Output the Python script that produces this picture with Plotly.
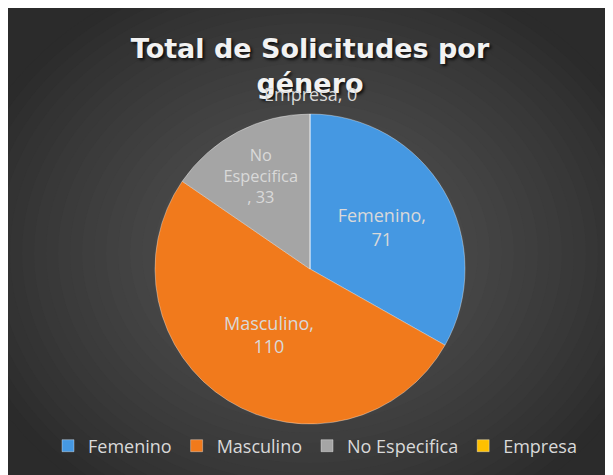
import plotly.graph_objects as go

# data
categorias = ["Femenino", "Masculino", "No Especifica", "Empresa"]
solicitudes = [71, 110, 33, 0]
etiquetas = ["Femenino,<br>71", "Masculino,<br>110", "No<br>Especifica<br>, 33", ""]
colores = ["#4598e2", "#f17a1c", "#a5a5a5", "#ffc000"]

# the page puts the figure 8px in from the top-left corner
W, H = 605, 467
FONT = "Open Sans"
GRIS_TEXTO = "#d9d9d9"

# pie centre and radius in figure pixels
PX, PY, PR = 302, 261, 155

fig = go.Figure()

fig.add_trace(go.Pie(
    labels=categorias,
    values=solicitudes,
    text=etiquetas,
    texttemplate="%{text}",
    textposition="inside",
    insidetextorientation="horizontal",
    textfont=dict(family=FONT, size=18, color=GRIS_TEXTO),
    marker=dict(colors=colores, line=dict(color="rgba(255,255,255,0.35)", width=1)),
    sort=False,
    direction="clockwise",
    rotation=0,
    showlegend=True,
    domain=dict(x=[(PX - PR) / W, (PX + PR) / W], y=[1 - (PY + PR) / H, 1 - (PY - PR) / H]),
))

# radial gradient background made of stacked ellipses
shapes = [dict(type="rect", xref="paper", yref="paper", x0=-0.05, x1=1.05, y0=-0.05, y1=1.05,
               fillcolor="#2b2b2b", line=dict(width=0), layer="below")]
cx, cy = 302 / W, 1 - 245 / H
rx, ry = 360 / W, 300 / H
steps = 30
c_out, c_in = 0x2b, 0x58
for i in range(steps):
    t = 1 - i / steps
    c = int(round(c_out + (c_in - c_out) * (i / (steps - 1)) ** 0.9))
    col = "#%02x%02x%02x" % (c, c, c)
    shapes.append(dict(type="circle", xref="paper", yref="paper",
                       x0=cx - rx * t, x1=cx + rx * t, y0=cy - ry * t, y1=cy + ry * t,
                       fillcolor=col, line=dict(width=0), layer="below"))

fig.update_layout(
    width=W,
    height=H,
    margin=dict(l=0, r=0, t=0, b=0),
    paper_bgcolor="#2b2b2b",
    shapes=shapes,
    title=dict(
        text="Total de Solicitudes por<br>género",
        x=302 / W,
        xanchor="center",
        y=1 - 50 / H,
        yanchor="top",
        font=dict(family="DejaVu Sans", size=27, color="#f2f2f2", weight="bold",
                  shadow="2px 2px 3px rgba(0,0,0,0.75)"),
    ),
    annotations=[dict(
        text="Empresa, 0", xref="paper", yref="paper", x=302 / W, y=1 - 86 / H,
        yanchor="middle", showarrow=False, font=dict(family=FONT, size=18, color=GRIS_TEXTO),
    )],
    legend=dict(
        orientation="h",
        x=307 / W,
        xanchor="center",
        y=1 - 438 / H,
        yanchor="middle",
        font=dict(family=FONT, size=18, color=GRIS_TEXTO),
        bgcolor="rgba(0,0,0,0)",
        itemwidth=30,
    ),
)

fig.write_html("out.html")
